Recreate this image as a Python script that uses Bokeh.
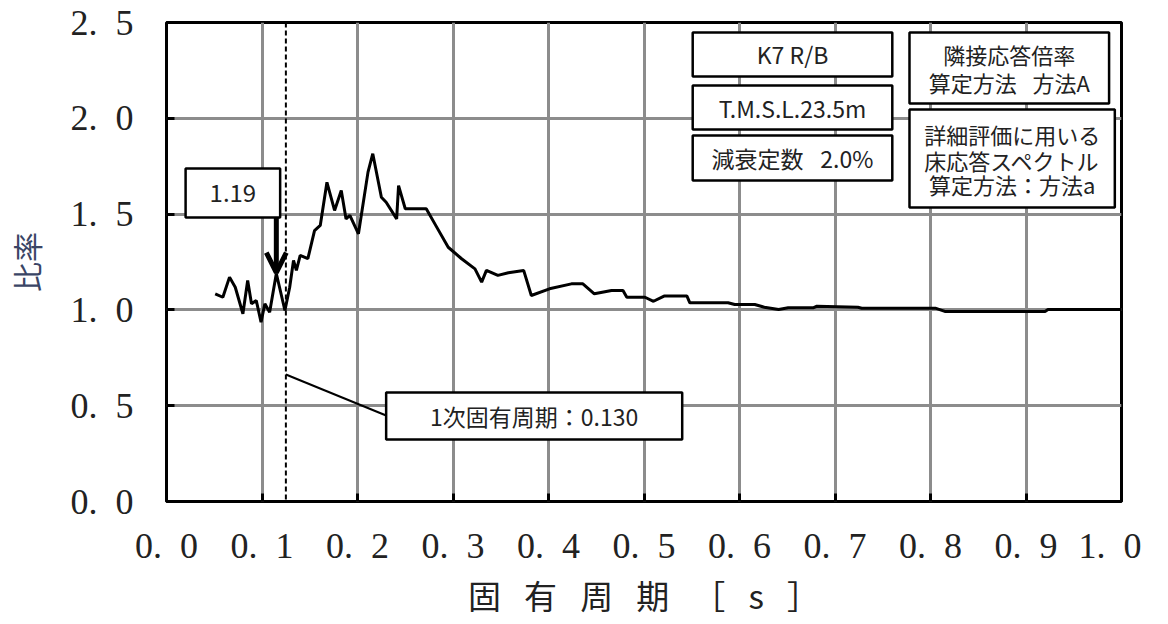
from bokeh.plotting import figure
from bokeh.embed import file_html
from bokeh.resources import INLINE
from bokeh.core.properties import value
from bokeh.models import (FixedTicker, CustomJSTickFormatter, Span, Arrow, OpenHead)

# ---- data ----
period = [0.051, 0.059, 0.066, 0.072, 0.080, 0.085, 0.089, 0.094, 0.099, 0.103,
          0.108, 0.115, 0.124, 0.129, 0.133, 0.136, 0.140, 0.148, 0.155, 0.161,
          0.168, 0.176, 0.183, 0.188, 0.192, 0.201, 0.211, 0.216, 0.225, 0.230,
          0.241, 0.243, 0.250, 0.272, 0.281, 0.295, 0.309, 0.323, 0.330, 0.335,
          0.347, 0.358, 0.374, 0.382, 0.401, 0.424, 0.436, 0.448, 0.466, 0.478,
          0.482, 0.501, 0.510, 0.521, 0.545, 0.548, 0.588, 0.595, 0.616, 0.626,
          0.641, 0.651, 0.677, 0.681, 0.724, 0.728, 0.805, 0.815, 0.920, 0.923,
          1.000]
ratio = [1.084, 1.066, 1.171, 1.118, 0.980, 1.153, 1.032, 1.049, 0.936, 1.032,
         0.988, 1.190, 0.997, 1.118, 1.258, 1.206, 1.284, 1.267, 1.414, 1.441,
         1.666, 1.519, 1.623, 1.475, 1.493, 1.397, 1.719, 1.815, 1.588, 1.562,
         1.475, 1.649, 1.528, 1.528, 1.449, 1.327, 1.267, 1.214, 1.145, 1.206,
         1.180, 1.194, 1.206, 1.075, 1.110, 1.136, 1.136, 1.084, 1.101, 1.101,
         1.066, 1.066, 1.045, 1.072, 1.072, 1.037, 1.037, 1.028, 1.028, 1.014,
         1.002, 1.011, 1.011, 1.019, 1.014, 1.009, 1.009, 0.992, 0.992, 1.002,
         1.002]
x_ticks = [0.0, 0.1, 0.2, 0.3, 0.4, 0.5, 0.6, 0.7, 0.8, 0.9, 1.0]
y_ticks = [0.0, 0.5, 1.0, 1.5, 2.0, 2.5]
first_period = 0.125       # dashed line position as drawn
peak_x, peak_y = 0.115, 1.19
peak_label = "1.19"
period_label = "1次固有周期：0.130"
info_left = ["K7 R/B", "T.M.S.L.23.5m", "減衰定数\u2002\u00a02.0%"]
info_right1 = ["隣接応答倍率", "算定方法\u2002\u00a0方法A"]
info_right2 = ["詳細評価に用いる", "床応答スペクトル", "算定方法：方法a"]
x_label_chars = ["固", "有", "周", "期", "［", "s", "］"]

JP = value("Noto Sans CJK JP")

p = figure(frame_width=955, frame_height=479, x_range=(0, 1), y_range=(0, 2.5),
           output_backend="svg", toolbar_location=None,
           min_border_left=165, min_border_top=22, min_border_right=20,
           min_border_bottom=104, background_fill_color="white")

fmt = CustomJSTickFormatter(code="return tick.toFixed(1).replace('.', '.\u2002');")
for ax, ticks in ((p.xaxis, x_ticks), (p.yaxis, y_ticks)):
    ax.ticker = FixedTicker(ticks=ticks)
    ax.formatter = fmt
    ax.major_label_text_font = "Liberation Serif"
    ax.major_label_text_font_size = "36px"
    ax.major_label_text_color = "#222222"
    ax.axis_line_color = None
    ax.major_tick_in = 8
    ax.major_tick_out = 0
    ax.major_tick_line_color = "black"
    ax.major_tick_line_width = 3
    ax.minor_tick_line_color = None

p.yaxis.major_label_standoff = 33
p.xaxis.major_label_standoff = 24
p.xaxis.axis_label = "\u2002\u2009".join(x_label_chars)
p.xaxis.axis_label_text_font = "Noto Sans CJK JP"
p.xaxis.axis_label_text_font_size = "33px"
p.xaxis.axis_label_text_font_style = "normal"
p.xaxis.axis_label_text_color = "#222222"
p.xaxis.axis_label_standoff = 2
p.yaxis.axis_label = "比率"
p.yaxis.axis_label_text_font = "Noto Sans CJK JP"
p.yaxis.axis_label_text_font_size = "30px"
p.yaxis.axis_label_text_font_style = "normal"
p.yaxis.axis_label_text_color = "#3a4565"
p.yaxis.axis_label_standoff = 20

p.xgrid.ticker = FixedTicker(ticks=x_ticks)
p.ygrid.ticker = FixedTicker(ticks=y_ticks)
p.grid.grid_line_color = "#8c8c8c"
p.grid.grid_line_width = 3

p.outline_line_color = "black"
p.outline_line_width = 3

# spectrum ratio curve
p.line(period, ratio, line_color="black", line_width=3)

# first natural period dashed line
p.add_layout(Span(location=first_period, dimension="height", line_color="black",
                  line_width=2, line_dash="5 3"))

# leader line from dashed line to label box
p.segment(x0=[first_period], y0=[0.663], x1=[0.230], y1=[0.449],
          line_color="black", line_width=2)

# boxes: (left, right, bottom, top)
boxes = [
    (0.020, 0.119, 1.482, 1.738),   # 1.19
    (0.230, 0.540, 0.324, 0.569),   # period label
    (0.551, 0.760, 2.218, 2.448),   # K7
    (0.551, 0.760, 1.942, 2.171),   # TMSL
    (0.551, 0.760, 1.675, 1.910),   # damping
    (0.778, 0.987, 2.077, 2.448),   # right 1
    (0.778, 0.993, 1.534, 2.046),   # right 2
]
p.quad(left=[b[0] for b in boxes], right=[b[1] for b in boxes],
       bottom=[b[2] for b in boxes], top=[b[3] for b in boxes],
       fill_color="white", line_color="black", line_width=2.5)

# arrow to the 1.19 peak
p.add_layout(Arrow(end=OpenHead(size=20, line_width=5, line_color="black"),
                   x_start=peak_x, y_start=1.482, x_end=peak_x, y_end=peak_y + 0.005,
                   line_width=5, line_color="black"))

def put(xs, ys, texts, size):
    p.text(x=xs, y=ys, text=texts, text_font=JP, text_font_size=size,
           text_align="center", text_baseline="middle", text_color="#222222")

put([0.0695], [1.610], [peak_label], "24px")
put([0.385], [0.446], [period_label], "23px")
put([0.6555] * 3, [2.333, 2.056, 1.792], info_left, "23px")
put([0.8825] * 2, [2.333, 2.192], info_right1, "22px")
put([0.8855] * 3, [1.918, 1.781, 1.655], info_right2, "22px")

open("out.html", "w").write(file_html(p, INLINE))
